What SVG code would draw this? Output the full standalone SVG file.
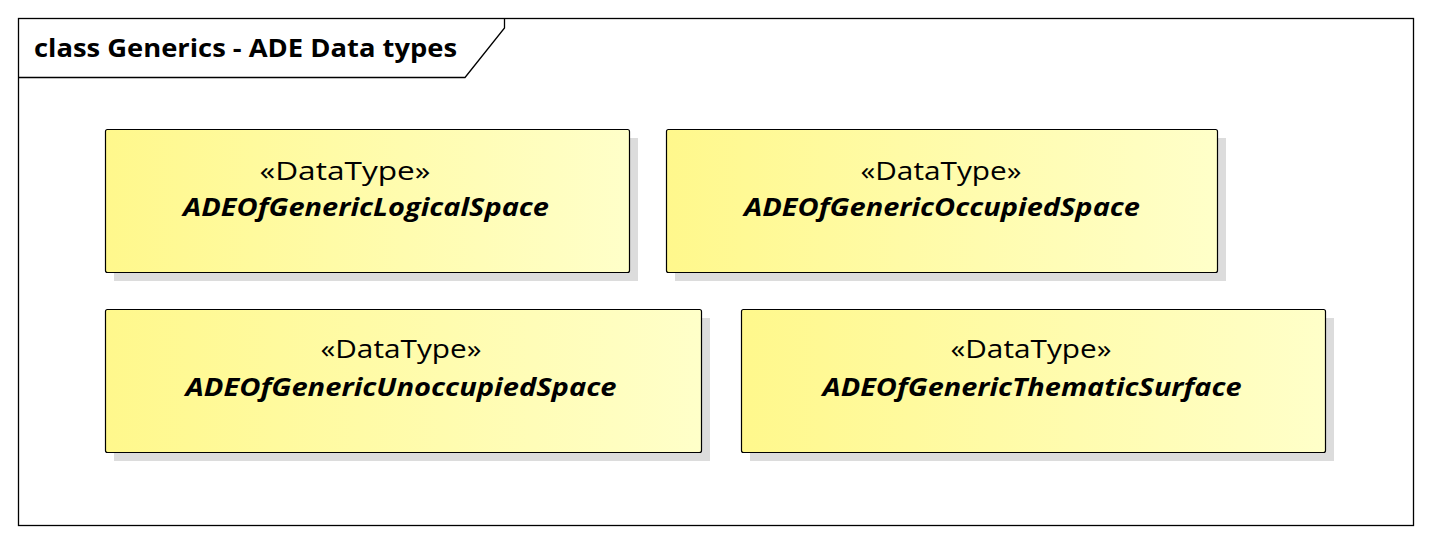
<svg xmlns="http://www.w3.org/2000/svg" width="1431" height="543" viewBox="0 0 1431 543">
<style>
.frame{fill:#fff;stroke:#000;stroke-width:1.3}
.shadow{fill:#dcdcdc}
.box{fill:url(#yg);stroke:#000;stroke-width:1.2}
.st{font-family:"Open Sans","Liberation Sans",sans-serif;font-size:25.5px;fill:#000;text-anchor:middle}
.nm{font-family:"Open Sans","Liberation Sans",sans-serif;font-size:25.5px;font-weight:bold;font-style:italic;fill:#000;text-anchor:middle}
.ti{font-family:"Open Sans","Liberation Sans",sans-serif;font-size:25.5px;font-weight:bold;fill:#000}
</style>
<defs>
<linearGradient id="yg" x1="0" y1="0" x2="1" y2="0">
<stop offset="0" stop-color="#fff88c"/>
<stop offset="1" stop-color="#ffffc9"/>
</linearGradient>
</defs>
<rect width="1431" height="543" fill="#fff"/>
<g id="frame">
<rect class="frame" x="18.5" y="18.5" width="1395" height="507"/>
<path d="M18.5 77.5 H465 L504.5 28 V18.5" fill="none" stroke="#000" stroke-width="1.3"/>
<text class="ti" x="34" y="57" textLength="423" lengthAdjust="spacingAndGlyphs">class Generics - ADE Data types</text>
</g>
<g id="connectors"></g>
<g id="n1">
<rect class="shadow" x="114" y="138" width="524" height="143"/>
<rect class="box" x="105.5" y="129.5" width="524" height="143" rx="2"/>
<text class="st" x="345" y="180" textLength="171" lengthAdjust="spacingAndGlyphs">«DataType»</text>
<text class="nm" x="366" y="216" textLength="366" lengthAdjust="spacingAndGlyphs">ADEOfGenericLogicalSpace</text>
</g>
<g id="n2">
<rect class="shadow" x="675" y="138" width="551" height="143"/>
<rect class="box" x="666.5" y="129.5" width="551" height="143" rx="2"/>
<text class="st" x="941" y="180" textLength="161" lengthAdjust="spacingAndGlyphs">«DataType»</text>
<text class="nm" x="942" y="216" textLength="396" lengthAdjust="spacingAndGlyphs">ADEOfGenericOccupiedSpace</text>
</g>
<g id="n3">
<rect class="shadow" x="114" y="318" width="596" height="143"/>
<rect class="box" x="105.5" y="309.5" width="596" height="143" rx="2"/>
<text class="st" x="401" y="358" textLength="161" lengthAdjust="spacingAndGlyphs">«DataType»</text>
<text class="nm" x="401" y="396" textLength="431" lengthAdjust="spacingAndGlyphs">ADEOfGenericUnoccupiedSpace</text>
</g>
<g id="n4">
<rect class="shadow" x="750" y="318" width="584" height="143"/>
<rect class="box" x="741.5" y="309.5" width="584" height="143" rx="2"/>
<text class="st" x="1031" y="358" textLength="161" lengthAdjust="spacingAndGlyphs">«DataType»</text>
<text class="nm" x="1032" y="396" textLength="419" lengthAdjust="spacingAndGlyphs">ADEOfGenericThematicSurface</text>
</g>
</svg>
